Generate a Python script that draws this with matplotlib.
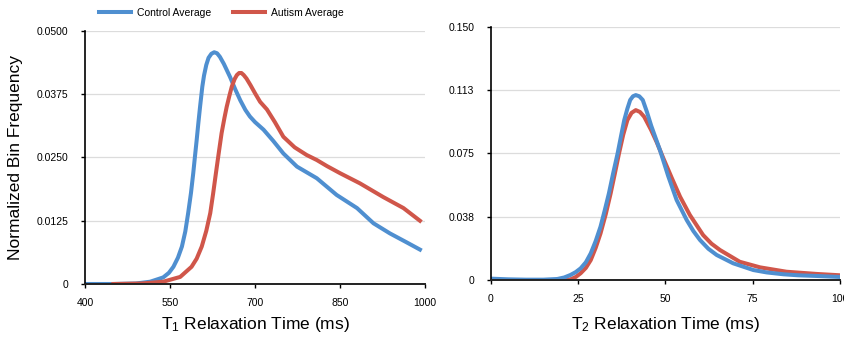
import matplotlib.pyplot as plt

plt.rcParams['font.family'] = ['Liberation Sans', 'DejaVu Sans']
plt.rcParams['mathtext.fontset'] = 'custom'
plt.rcParams['mathtext.rm'] = 'Liberation Sans'
plt.rcParams['mathtext.it'] = 'Liberation Sans'

# T1 histograms (ms, normalized bin frequency)
t1_ctrl_x = [400, 450, 490, 515, 538, 548, 556, 564, 571, 577, 582, 587, 591, 594, 597, 600,
             603, 607, 610, 614, 618, 623, 628, 633, 638, 645, 656, 665, 674, 683, 691, 700,
             709, 715, 732, 750, 774, 809, 844, 880, 909, 938, 968, 991]
t1_ctrl_y = [0, 0, 0.0001, 0.00045, 0.0013, 0.0022, 0.0034, 0.0052, 0.0074, 0.0104, 0.0140,
             0.0180, 0.0219, 0.0252, 0.0284, 0.0318, 0.0350, 0.0390, 0.0412, 0.0433, 0.0447,
             0.0455, 0.0458, 0.0456, 0.0449, 0.0435, 0.0409, 0.0385, 0.0363, 0.0344, 0.0331,
             0.0320, 0.0311, 0.0305, 0.0283, 0.0258, 0.0232, 0.0209, 0.0176, 0.0150, 0.0120,
             0.0100, 0.0082, 0.0068]

t1_aut_x = [450, 500, 538, 568, 588, 597, 606, 614, 621, 626, 631, 636, 641, 646, 650, 655,
            659, 664, 668, 672, 676, 680, 685, 692, 700, 709, 721, 735, 750, 770, 791, 809,
            827, 850, 885, 926, 962, 991]
t1_aut_y = [0, 0.0001, 0.00045, 0.0014, 0.0034, 0.0050, 0.0074, 0.0105, 0.0140, 0.0178,
            0.0219, 0.0259, 0.0298, 0.0328, 0.0350, 0.0373, 0.0390, 0.0405, 0.0413, 0.0417,
            0.0417, 0.0413, 0.0406, 0.0393, 0.0377, 0.0360, 0.0345, 0.0320, 0.0291, 0.0270,
            0.0255, 0.0245, 0.0233, 0.0219, 0.0199, 0.0172, 0.0150, 0.0125]

# T2 histograms
t2_ctrl_x = [0, 5, 10, 15, 19, 21, 22.8, 24.3, 25.7, 27.2, 28.6, 30, 31.4, 32.6, 33.8, 35.0,
             36.3, 37.3, 38.2, 39.1, 39.9, 40.7, 41.5, 42.5, 43.5, 44.7, 45.9, 47.2, 48.5,
             50.8, 53.2, 56.1, 58, 59.9, 62.3, 64.7, 69.4, 75.2, 79, 83.8, 88, 93.3, 100]
t2_ctrl_y = [0.0008, 0.0004, 0.0002, 0.0002, 0.0006, 0.0015, 0.003, 0.0047, 0.0069, 0.0105,
             0.0158, 0.0230, 0.0316, 0.0412, 0.0513, 0.0630, 0.075, 0.0855, 0.0947, 0.1015,
             0.1066, 0.1088, 0.1095, 0.1088, 0.1066, 0.0995, 0.0915, 0.0840, 0.0765, 0.0615,
             0.0474, 0.0355, 0.0290, 0.0237, 0.0185, 0.0148, 0.0099, 0.0059, 0.0045, 0.0034,
             0.0028, 0.0024, 0.0018]

t2_aut_x = [20, 22.8, 24.3, 25.7, 27.2, 28.6, 30, 31.4, 32.9, 34.3, 35.5, 36.7, 37.9, 39.1,
            40.3, 41.5, 42.7, 43.9, 45.9, 47.5, 49.4, 51.8, 54.2, 57.0, 60.8, 63.2, 65.6,
            71.3, 77.1, 84.7, 93.3, 100]
t2_aut_y = [0.0, 0.0004, 0.0018, 0.004, 0.0072, 0.0118, 0.0190, 0.0276, 0.0390, 0.0513,
            0.0630, 0.075, 0.0860, 0.0947, 0.0990, 0.1006, 0.0995, 0.0967, 0.0888, 0.0816,
            0.0721, 0.0605, 0.0493, 0.0385, 0.0266, 0.0215, 0.0178, 0.0108, 0.0075, 0.0049,
            0.0036, 0.0028]

t1_ticks = [400, 550, 700, 850, 1000]
t1_yticks = [0, 0.0125, 0.025, 0.0375, 0.05]
t1_ylabels = ['0', '0.0125', '0.0250', '0.0375', '0.0500']
t2_ticks = [0, 25, 50, 75, 100]
t2_yticks = [0, 0.0375, 0.075, 0.1125, 0.15]
t2_ylabels = ['0', '0.038', '0.075', '0.113', '0.150']

blue = '#4f8fd0'
red = '#d0564a'

fig = plt.figure(figsize=(8.45, 3.37), dpi=100)
ax1 = fig.add_axes([0.1006, 0.1573, 0.4024, 0.7507])
ax2 = fig.add_axes([0.581, 0.1691, 0.413, 0.7517])


def style(ax):
    for s in ['top', 'right']:
        ax.spines[s].set_visible(False)
    ax.spines['left'].set_linewidth(1.2)
    ax.spines['bottom'].set_linewidth(1.4)
    ax.spines['bottom'].set_color('#222222')
    ax.grid(axis='y', color='#dcdcdc', linewidth=0.9)
    ax.set_axisbelow(True)
    ax.tick_params(axis='both', length=3, width=1, labelsize=7.5, color='black')
    ax.tick_params(axis='y', pad=9)
    ax.tick_params(axis='x', pad=7)


lw = 2.9
ax1.plot(t1_ctrl_x, t1_ctrl_y, color=blue, lw=lw, solid_joinstyle='round', label='Control Average')
ax1.plot(t1_aut_x, t1_aut_y, color=red, lw=lw, solid_joinstyle='round', label='Autism Average')
ax1.set_xlim(400, 1000)
ax1.set_ylim(0, 0.05)
ax1.set_xticks(t1_ticks)
ax1.set_yticks(t1_yticks, t1_ylabels)
style(ax1)
ax1.set_xlabel('T$_1$ Relaxation Time (ms)', fontsize=12.5, labelpad=5)
ax1.set_ylabel('Normalized Bin Frequency', fontsize=12.5, labelpad=10)

ax2.plot(t2_aut_x, t2_aut_y, color=red, lw=lw, solid_joinstyle='round')
ax2.plot(t2_ctrl_x, t2_ctrl_y, color=blue, lw=lw, solid_joinstyle='round')
ax2.set_xlim(0, 100)
ax2.set_ylim(0, 0.15)
ax2.set_xticks(t2_ticks)
ax2.set_yticks(t2_yticks, t2_ylabels)
style(ax2)
ax2.set_xlabel('T$_2$ Relaxation Time (ms)', fontsize=12.5, labelpad=8)

fig.legend(loc='center', bbox_to_anchor=(0.262, 0.961), ncol=2, frameon=False,
           fontsize=7.5, handlelength=3.1, handletextpad=0.6, columnspacing=2.0)

fig.savefig('out.png', dpi=100)
